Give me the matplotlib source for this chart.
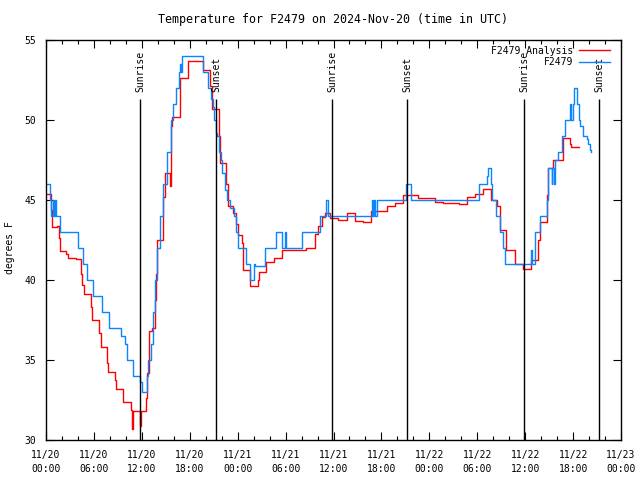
import matplotlib
matplotlib.use("Agg")
import matplotlib.pyplot as plt
import matplotlib.dates as mdates
import pandas as pd

# start of the plotted day (UTC)
start = pd.Timestamp("2024-11-20 00:00")

# observed temperature (F2479), hours after start / degrees F
obs_hours = [0.0, 0.45, 0.6, 0.85, 1.0, 1.1, 1.3, 1.75, 4.05, 4.6, 5.1, 5.9, 7.0, 7.9,
             9.4, 9.9, 10.1, 10.9, 11.8, 12.0, 12.6, 12.8, 13.1, 13.4, 13.7, 13.9,
             14.3, 14.6, 15.1, 15.6, 15.9, 16.3, 16.6, 16.8, 16.9, 17.0, 19.6, 19.7,
             20.3, 20.6, 20.9, 21.0, 21.3, 21.45, 21.7, 21.9, 22.1, 22.4, 22.7, 23.1,
             23.6, 23.8, 24.1, 25.1, 25.5, 26.05, 26.2, 27.4, 28.8, 29.6, 29.9, 30.1,
             32.0, 34.3, 35.05, 35.35, 40.8, 41.0, 41.1, 41.25, 41.4, 45.05, 45.7,
             54.25, 55.2, 55.4, 55.7, 55.9, 56.4, 56.8, 57.2, 57.5, 60.7, 60.85,
             61.2, 61.8, 62.7, 62.8, 62.9, 63.3, 63.4, 63.6, 63.7, 64.15, 64.6, 65.0,
             65.6, 65.8, 65.95, 66.15, 66.45, 66.7, 66.9, 67.2, 67.8, 67.9, 68.1, 68.3]
obs_temp = [46, 45, 44, 45, 44, 45, 44, 43, 42, 41, 40, 39, 38, 37,
            36.5, 36, 35, 34, 33.6, 33, 34, 35, 36, 38, 40, 42,
            44, 46, 48, 50, 51, 52, 53, 53.5, 53, 54, 53.5, 53,
            52, 51.3, 50.8, 50, 49.2, 49, 48, 47.5, 46.7, 45.6, 45, 44.5,
            44, 43, 42, 41, 40, 41, 40.9, 42, 43, 42, 43, 42,
            43, 44, 45, 44, 45, 44, 45, 44, 45, 46, 45,
            46, 46.5, 47, 46, 45, 44, 43, 42, 41, 41.9, 41,
            43, 44, 45, 46, 47, 46, 47, 46, 47.5, 48, 49, 50,
            51, 50, 51, 52, 51, 50, 49.6, 49, 48.8, 48.5, 48.1, 48]

# analysis temperature (F2479 Analysis)
ana_hours = [0.0, 0.67, 0.8, 1.42, 1.58, 1.75, 2.46, 2.75, 3.8, 4.34, 4.55, 4.76,
             5.6, 5.8, 6.64, 6.85, 7.6, 7.76, 8.64, 8.8, 9.64, 10.7, 10.8, 10.9,
             11.0, 11.77, 11.94, 12.56, 12.7, 12.9, 13.3, 13.65, 13.8, 13.85, 14.7,
             14.9, 15.5, 15.6, 15.7, 15.8, 16.8, 17.8, 19.6, 20.5, 20.75, 21.6, 21.8,
             22.6, 22.8, 23.45, 23.75, 24.0, 24.5, 24.7, 25.6, 26.5, 26.7, 27.6,
             28.5, 29.6, 32.6, 33.7, 34.1, 34.6, 34.9, 35.6, 36.6, 37.65, 38.7,
             39.65, 40.66, 41.7, 42.7, 43.7, 44.7, 46.6, 48.7, 49.75, 51.7, 52.7,
             53.7, 54.7, 55.7, 56.5, 56.85, 57.6, 58.7, 59.7, 60.7, 61.65, 61.8,
             62.7, 62.8, 63.5, 64.7, 65.6, 65.8]
ana_temp = [45.4, 44.4, 43.3, 43.4, 42.6, 41.8, 41.6, 41.4, 41.3, 40.4, 39.7, 39.1,
            38.3, 37.5, 36.7, 35.8, 34.8, 34.25, 33.75, 33.2, 32.4, 31.9, 30.7, 31.8,
            31.8, 30.9, 31.8, 32.6, 34.2, 36.8, 37.0, 38.75, 40.4, 42.5, 45.2,
            46.7, 45.9, 46.7, 49.6, 50.2, 52.6, 53.7, 53.1, 52.1, 50.7, 49.0, 47.3,
            46.0, 44.6, 44.2, 43.5, 42.8, 42.3, 40.6, 39.6, 40.0, 40.5, 41.15,
            41.35, 41.9, 42.0, 42.9, 43.4, 43.95, 44.2, 43.85, 43.75, 44.2, 43.7,
            43.65, 44.3, 44.3, 44.6, 44.8, 45.3, 45.1, 44.9, 44.8, 44.75, 45.2,
            45.4, 45.7, 45.0, 44.6, 43.1, 41.9, 41.0, 40.7, 41.25, 42.5, 43.65,
            45.3, 47.0, 47.5, 48.85, 48.5, 48.3]
ana_end = 66.7

# sunrise / sunset, hours after start
sun_hours = [11.77, 21.3, 35.85, 45.25, 59.9, 69.3]
sun_labels = ["Sunrise", "Sunset", "Sunrise", "Sunset", "Sunrise", "Sunset"]

mono = "DejaVu Sans Mono"
plt.rcParams["font.family"] = mono
plt.rcParams["font.size"] = 7

obs_t = [start + pd.Timedelta(hours=h) for h in obs_hours]
ana_t = [start + pd.Timedelta(hours=h) for h in ana_hours + [ana_end]]
ana_v = ana_temp + [ana_temp[-1]]

fig = plt.figure(figsize=(6.4, 4.8), dpi=100)
ax = fig.add_axes([46 / 640, 40 / 480, 575 / 640, 400 / 480])

ax.plot(ana_t, ana_v, drawstyle="steps-post", color="#ff0000", lw=1.0,
        label="F2479 Analysis")
ax.plot(obs_t, obs_temp, drawstyle="steps-post", color="#0a84ff", lw=1.0,
        label="F2479")

for h, lab in zip(sun_hours, sun_labels):
    t = start + pd.Timedelta(hours=h)
    ax.vlines(t, 30, 51.3, color="black", lw=1.0)
    ax.text(t, 51.75, lab, rotation=90, ha="center", va="bottom")

ax.set_xlim(start, start + pd.Timedelta(hours=72))
ax.set_ylim(30, 55)
ax.set_yticks(range(30, 56, 5))
ax.xaxis.set_major_locator(mdates.HourLocator(byhour=[0, 6, 12, 18]))
ax.xaxis.set_minor_locator(mdates.HourLocator(interval=2))
ax.xaxis.set_major_formatter(mdates.DateFormatter("%m/%d\n%H:%M"))
ax.tick_params(which="both", direction="in", top=True, right=True, width=0.8)
ax.tick_params(which="major", length=6, pad=7)
ax.tick_params(which="minor", length=3)
for s in ax.spines.values():
    s.set_linewidth(1.0)
for lab in ax.get_xticklabels():
    lab.set_linespacing(1.5)

ax.set_ylabel("degrees F")
ax.yaxis.set_label_coords(-0.054, 0.482)
ax.set_title("Temperature for F2479 on 2024-Nov-20 (time in UTC)", pad=12)
ax.legend(loc="upper right", bbox_to_anchor=(0.991, 1.0), frameon=False,
          markerfirst=False, handlelength=3.2, borderaxespad=0.2,
          labelspacing=0.15, handletextpad=0.6)

fig.savefig("out.png", dpi=100)
plt.close("all")
